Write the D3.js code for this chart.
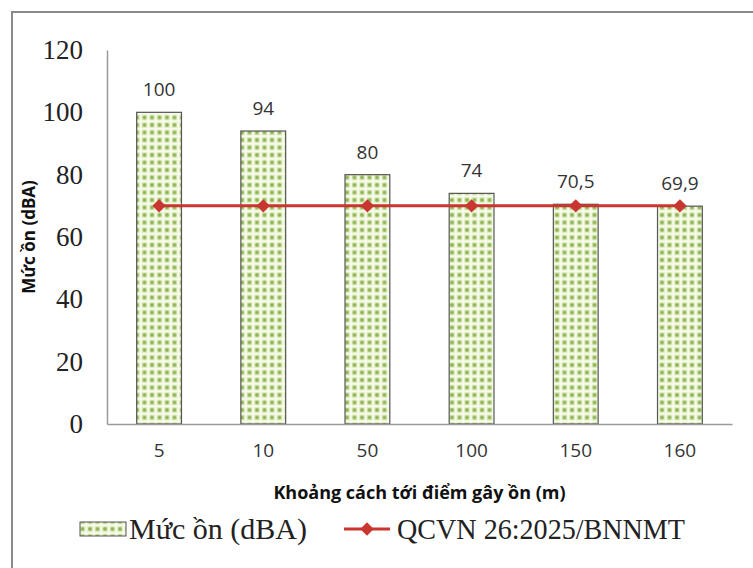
<!DOCTYPE html>
<html>
<head>
<meta charset="utf-8">
<script src="https://cdn.jsdelivr.net/npm/d3@7"></script>
<style>
  body { margin: 0; background: #fff; }
</style>
</head>
<body>
<div id="chart"></div>
<script>
// data
const distances = ["5", "10", "50", "100", "150", "160"];
const noiseLevels = [100, 94, 80, 74, 70.5, 69.9];
const standardLevels = [70, 70, 70, 70, 70, 70];
const yTicks = [0, 20, 40, 60, 80, 100, 120];
const barName = "Mức ồn (dBA)";
const lineName = "QCVN 26:2025/BNNMT";

const W = 753, H = 568;
const margin = { top: 50, right: 21, bottom: 144, left: 107 };
const width = W - margin.left - margin.right,
  height = H - margin.top - margin.bottom;

const svg = d3.select("#chart")
  .append("svg")
  .attr("width", W)
  .attr("height", H);

// pattern for the bars
const defs = svg.append("defs");
const pat = defs.append("pattern")
  .attr("id", "dots")
  .attr("patternUnits", "userSpaceOnUse")
  .attr("width", 7.5)
  .attr("height", 7.5);
pat.append("rect").attr("width", 7.5).attr("height", 7.5).attr("fill", "#dcebb8");
pat.append("rect").attr("x", 0).attr("y", 3).attr("width", 7.5).attr("height", 1.6).attr("fill", "#fbfdf4");
pat.append("rect").attr("x", 3).attr("y", 0).attr("width", 1.6).attr("height", 7.5).attr("fill", "#fbfdf4");
[[0, 0], [7.5, 0], [0, 7.5], [7.5, 7.5]].forEach(p => {
  pat.append("circle").attr("cx", p[0]).attr("cy", p[1]).attr("r", 1.9).attr("fill", "#8fb55a");
});

// outer frame
svg.append("rect")
  .attr("x", 12).attr("y", 12)
  .attr("width", W).attr("height", H)
  .attr("fill", "none")
  .attr("stroke", "#8a8a8a")
  .attr("stroke-width", 2);

const g = svg.append("g")
  .attr("transform", `translate(${margin.left},${margin.top})`);

const x = d3.scaleBand()
  .domain(distances)
  .range([0, width])
  .paddingInner(0.57)
  .paddingOuter(0.285);

const y = d3.scaleLinear()
  .domain([0, 120])
  .range([height, 0]);

// y axis
const yAxis = g.append("g")
  .call(d3.axisLeft(y).tickValues(yTicks).tickSize(0).tickPadding(24));
yAxis.select(".domain").attr("stroke", "#9a9a9a").attr("stroke-width", 1.5);
yAxis.selectAll("text")
  .attr("font-family", "'Liberation Serif', 'Times New Roman', serif")
  .attr("font-size", 27)
  .attr("fill", "#222");

// bars
g.selectAll(".bar")
  .data(noiseLevels)
  .join("rect")
  .attr("class", "bar")
  .attr("x", (d, i) => x(distances[i]))
  .attr("y", d => y(d))
  .attr("width", x.bandwidth())
  .attr("height", d => height - y(d))
  .attr("fill", "url(#dots)")
  .attr("stroke", "#555")
  .attr("stroke-width", 1.2);

// x axis
const xAxis = g.append("g")
  .attr("transform", `translate(0,${height})`)
  .call(d3.axisBottom(x).tickSize(0).tickPadding(20));
xAxis.select(".domain").attr("stroke", "#9a9a9a").attr("stroke-width", 1.5);
xAxis.selectAll("text")
  .attr("font-family", "'Open Sans', sans-serif")
  .attr("font-size", 19)
  .attr("fill", "#333");

// data labels
g.selectAll(".lbl")
  .data(noiseLevels)
  .join("text")
  .attr("class", "lbl")
  .attr("x", (d, i) => x(distances[i]) + x.bandwidth() / 2)
  .attr("y", d => y(d) - 16)
  .attr("text-anchor", "middle")
  .attr("font-family", "'Open Sans', sans-serif")
  .attr("font-size", 19)
  .attr("fill", "#333")
  .text(d => String(d).replace(".", ","));

// standard line
const line = d3.line()
  .x((d, i) => x(distances[i]) + x.bandwidth() / 2)
  .y(d => y(d));
g.append("path")
  .datum(standardLevels)
  .attr("d", line)
  .attr("fill", "none")
  .attr("stroke", "#c9352f")
  .attr("stroke-width", 3);
g.selectAll(".mk")
  .data(standardLevels)
  .join("path")
  .attr("class", "mk")
  .attr("d", d3.symbol().type(d3.symbolSquare).size(90))
  .attr("transform", (d, i) => `translate(${x(distances[i]) + x.bandwidth() / 2},${y(d)}) rotate(45)`)
  .attr("fill", "#c9352f");

// axis titles
svg.append("text")
  .attr("x", margin.left + width / 2)
  .attr("y", 499)
  .attr("text-anchor", "middle")
  .attr("font-family", "'Open Sans', sans-serif")
  .attr("font-weight", "bold")
  .attr("font-size", 18)
  .attr("fill", "#111")
  .text("Khoảng cách tới điểm gây ồn (m)");

svg.append("text")
  .attr("transform", `translate(35,${margin.top + height / 2}) rotate(-90)`)
  .attr("text-anchor", "middle")
  .attr("font-family", "'Open Sans', sans-serif")
  .attr("font-weight", "bold")
  .attr("font-size", 17)
  .attr("fill", "#111")
  .text("Mức ồn (dBA)");

// legend
const leg = svg.append("g").attr("transform", "translate(0,529)");
leg.append("rect")
  .attr("x", 80).attr("y", -7).attr("width", 46).attr("height", 14)
  .attr("fill", "url(#dots)")
  .attr("stroke", "#555");
leg.append("text")
  .attr("x", 129).attr("y", 10)
  .attr("font-family", "'Liberation Serif', 'Times New Roman', serif")
  .attr("font-size", 30)
  .attr("fill", "#222")
  .text(barName);
leg.append("line")
  .attr("x1", 344).attr("x2", 390)
  .attr("y1", 0).attr("y2", 0)
  .attr("stroke", "#c9352f")
  .attr("stroke-width", 3);
leg.append("path")
  .attr("d", d3.symbol().type(d3.symbolSquare).size(90))
  .attr("transform", "translate(367,0) rotate(45)")
  .attr("fill", "#c9352f");
leg.append("text")
  .attr("x", 397).attr("y", 10)
  .attr("font-family", "'Liberation Serif', 'Times New Roman', serif")
  .attr("font-size", 30)
  .attr("textLength", 288)
  .attr("lengthAdjust", "spacingAndGlyphs")
  .attr("fill", "#222")
  .text(lineName);
</script>
</body>
</html>
